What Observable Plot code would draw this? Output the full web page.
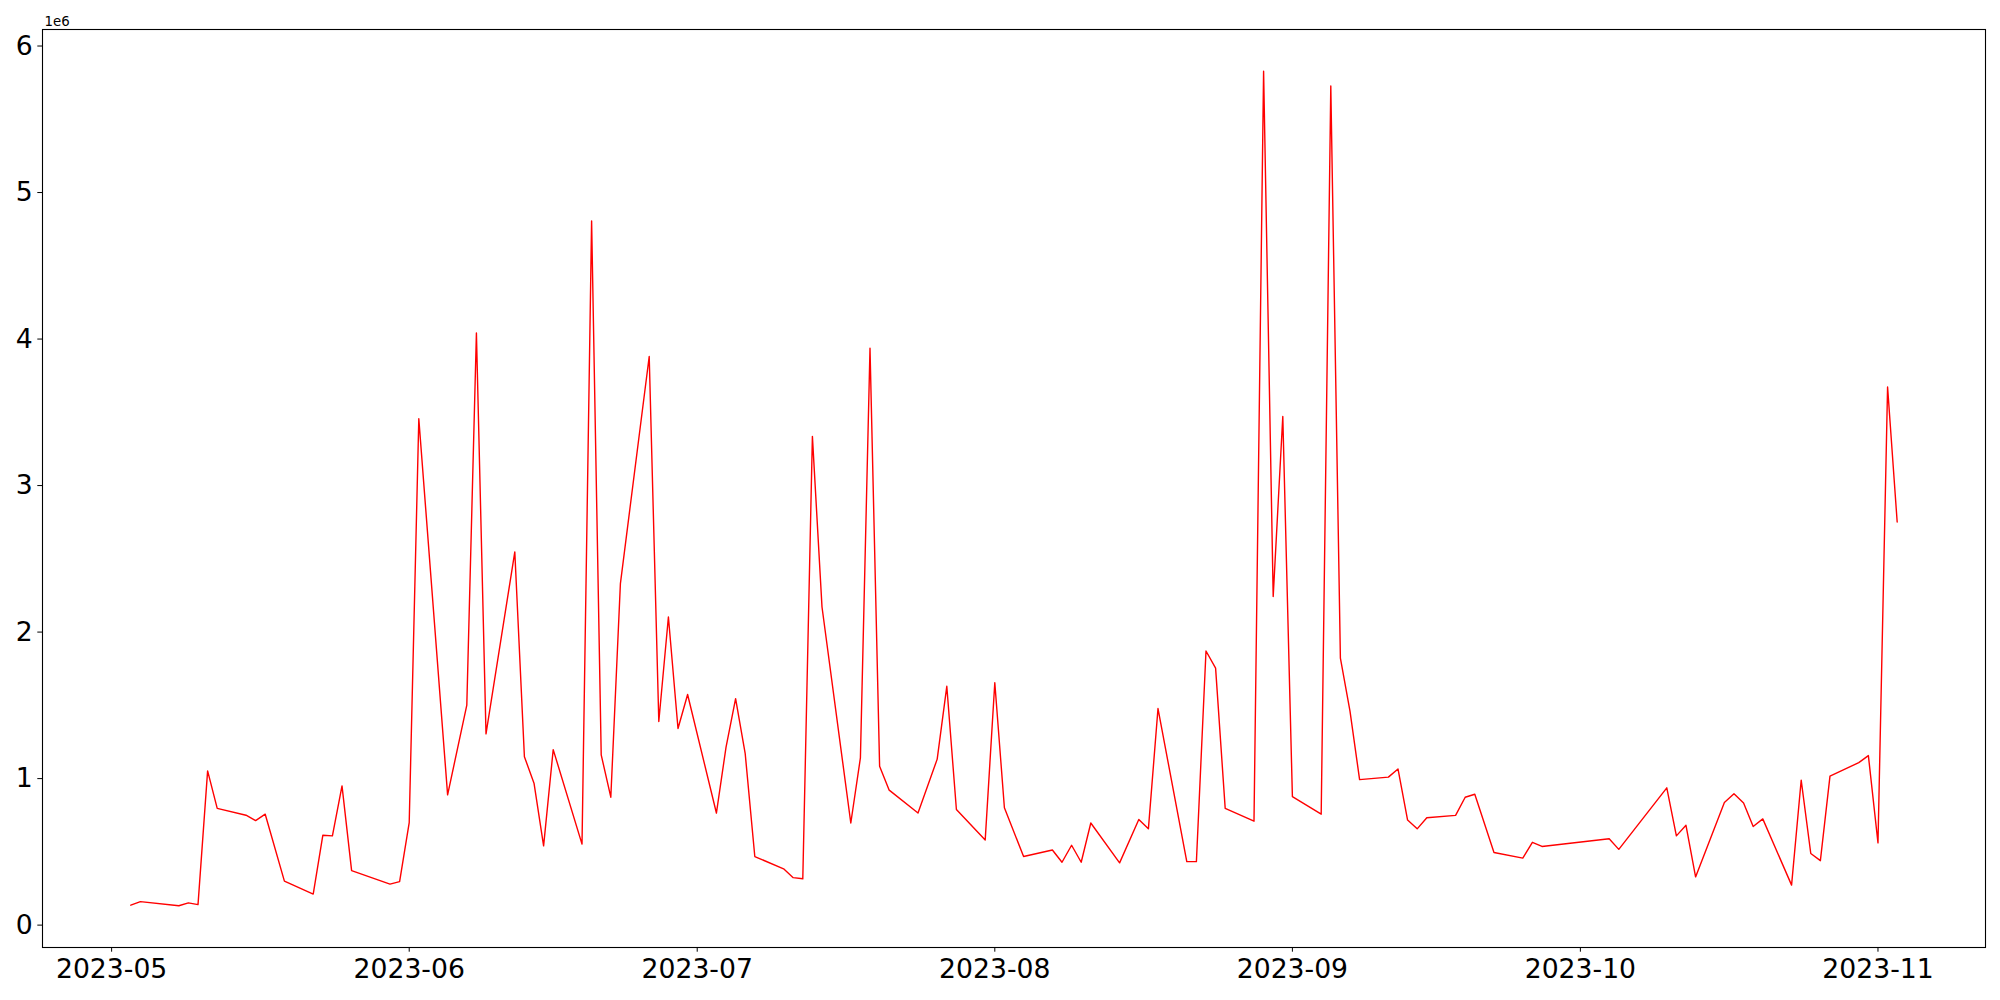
<!DOCTYPE html>
<html>
<head>
<meta charset="utf-8">
<script src="https://cdn.jsdelivr.net/npm/d3@7"></script>
<script src="https://cdn.jsdelivr.net/npm/@observablehq/plot@0.6"></script>
<style>
  html, body { margin: 0; padding: 0; background: #fff; }
  #chart svg { display: block; }
</style>
</head>
<body>
<div id="chart"></div>
<script>
// Dates (trading days) and values (in units of 1e6)
const dates = [
  "2023-05-03","2023-05-04","2023-05-08","2023-05-09","2023-05-10","2023-05-11","2023-05-12",
  "2023-05-15","2023-05-16","2023-05-17","2023-05-19","2023-05-22","2023-05-23","2023-05-24",
  "2023-05-25","2023-05-26","2023-05-30","2023-05-31","2023-06-01","2023-06-02","2023-06-05",
  "2023-06-07","2023-06-08","2023-06-09","2023-06-12","2023-06-13","2023-06-14","2023-06-15",
  "2023-06-16","2023-06-19","2023-06-20","2023-06-21","2023-06-22","2023-06-23","2023-06-26",
  "2023-06-27","2023-06-28","2023-06-29","2023-06-30","2023-07-03","2023-07-04","2023-07-05",
  "2023-07-06","2023-07-07","2023-07-10","2023-07-11","2023-07-12","2023-07-13","2023-07-14",
  "2023-07-17","2023-07-18","2023-07-19","2023-07-20","2023-07-21","2023-07-24","2023-07-26",
  "2023-07-27","2023-07-28","2023-07-31","2023-08-01","2023-08-02","2023-08-04","2023-08-07",
  "2023-08-08","2023-08-09","2023-08-10","2023-08-11","2023-08-14","2023-08-16","2023-08-17",
  "2023-08-18","2023-08-21","2023-08-22","2023-08-23","2023-08-24","2023-08-25","2023-08-28",
  "2023-08-29","2023-08-30","2023-08-31","2023-09-01","2023-09-04","2023-09-05","2023-09-06",
  "2023-09-07","2023-09-08","2023-09-11","2023-09-12","2023-09-13","2023-09-14","2023-09-15",
  "2023-09-18","2023-09-19","2023-09-20","2023-09-22","2023-09-25","2023-09-26","2023-09-27",
  "2023-10-04","2023-10-05","2023-10-10","2023-10-11","2023-10-12","2023-10-13","2023-10-16",
  "2023-10-17","2023-10-18","2023-10-19","2023-10-20","2023-10-23","2023-10-24","2023-10-25",
  "2023-10-26","2023-10-27","2023-10-30","2023-10-31","2023-11-01","2023-11-02","2023-11-03"
];
const values = [
  0.136,0.160,0.132,0.152,0.140,1.053,0.797,
  0.750,0.713,0.757,0.300,0.212,0.613,0.609,
  0.950,0.372,0.280,0.297,0.700,3.456,0.889,
  1.502,4.041,1.305,2.547,1.149,0.969,0.541,
  1.198,0.553,4.806,1.162,0.873,2.331,3.881,
  1.390,2.103,1.342,1.574,0.765,1.213,1.546,
  1.170,0.468,0.384,0.324,0.316,3.336,2.171,
  0.697,1.141,3.937,1.085,0.921,0.765,1.133,
  1.630,0.789,0.581,1.654,0.801,0.468,0.513,
  0.429,0.545,0.429,0.697,0.425,0.721,0.657,
  1.478,0.433,0.433,1.871,1.754,0.797,0.709,
  5.828,2.243,3.472,0.877,0.757,5.727,1.822,
  1.461,0.993,1.010,1.066,0.717,0.657,0.733,
  0.749,0.873,0.893,0.496,0.457,0.565,0.537,
  0.589,0.517,0.937,0.609,0.681,0.329,0.837,
  0.897,0.833,0.673,0.725,0.273,0.989,0.489,
  0.440,1.017,1.109,1.157,0.561,3.673,2.751
];
const yTicks = [0, 1, 2, 3, 4, 5, 6];
const offsetLabel = "1e6";
const lineColor = "red";

const data = dates.map((d, i) => ({date: new Date(d + "T00:00:00Z"), value: values[i]}));

// matplotlib-style 5% margins
const x0 = d3.min(data, d => d.date), x1 = d3.max(data, d => d.date);
const xpad = (x1 - x0) * 0.05;
const xDomain = [new Date(+x0 - xpad), new Date(+x1 + xpad)];
const y0 = d3.min(values), y1 = d3.max(values);
const ypad = (y1 - y0) * 0.05;
const yDomain = [y0 - ypad, y1 + ypad];
const xTicks = d3.utcMonth.range(xDomain[0], xDomain[1]);

const chart = Plot.plot({
  width: 2000,
  height: 1000,
  marginLeft: 42,
  marginRight: 15,
  marginTop: 29,
  marginBottom: 53,
  style: {fontFamily: "DejaVu Sans, sans-serif", fontSize: "26.67px", color: "black", background: "white"},
  x: {type: "utc", domain: xDomain, label: null},
  y: {domain: yDomain, label: null},
  marks: [
    Plot.line(data, {x: "date", y: "value", stroke: lineColor, strokeWidth: 1.4}),
    Plot.frame({stroke: "black", strokeWidth: 1.1}),
    Plot.axisX({ticks: xTicks, tickFormat: d3.utcFormat("%Y-%m"), tickSize: 4.7, tickPadding: 7, label: null, fontSize: 26.67}),
    Plot.axisY({ticks: yTicks, tickFormat: d => String(d), tickSize: 4.7, tickPadding: 5, label: null, fontSize: 26.67}),
    Plot.text([offsetLabel], {frameAnchor: "top-left", text: d => d, textAnchor: "start", lineAnchor: "bottom", dx: 2, dy: -4, fontSize: 13.33})
  ]
});
document.getElementById("chart").appendChild(chart);
</script>
</body>
</html>
